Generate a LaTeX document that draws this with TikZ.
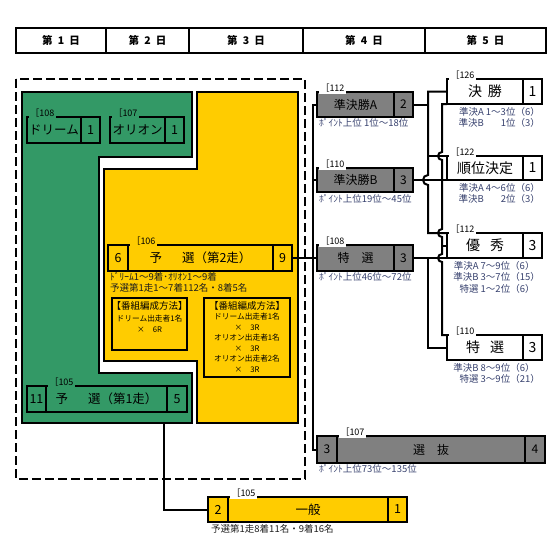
\documentclass[tikz,border=0pt]{standalone}
\usepackage{fontspec}
\setmainfont{Noto Sans CJK JP}
\usetikzlibrary{positioning, calc}
\definecolor{mygreen}{RGB}{51,153,102}
\definecolor{myyellow}{RGB}{255,204,0}
\definecolor{mygray}{RGB}{128,128,128}
\definecolor{mynavy}{RGB}{55,65,110}
\definecolor{mydark}{RGB}{30,30,30}
\tikzset{
  hdrcell/.style={rectangle, draw, line width=1.6pt, minimum height=25pt,
    inner sep=0pt, outer sep=0pt, anchor=north west,
    font=\fontsize{10.5}{12}\selectfont\bfseries},
  cell/.style={rectangle, draw, line width=2.4pt, inner sep=0pt, outer sep=0pt,
    anchor=north west, font=\fontsize{12.5}{14}\selectfont},
  greencell/.style={cell, fill=mygreen},
  yellowcell/.style={cell, fill=myyellow},
  graycell/.style={cell, fill=mygray, font=\fontsize{12}{14}\selectfont},
  whitecell/.style={cell, fill=white, font=\fontsize{14}{16}\selectfont},
  tag/.style={inner sep=1.5pt, outer sep=0pt, fill=white,
    font=\fontsize{9}{10}\selectfont},
  note/.style={inner sep=0pt, text=mydark, font=\fontsize{9.5}{11.5}\selectfont},
  pointnote/.style={note, text=mynavy},
  methbox/.style={rectangle, draw, line width=2.4pt, outer sep=0pt,
    inner sep=0pt, anchor=north west},
  methtext/.style={align=center, inner sep=0pt, anchor=north,
    font=\fontsize{7.7}{10.5}\selectfont},
  area/.style={line width=2.4pt},
  frame/.style={line width=2.2pt, dash pattern=on 9pt off 4pt},
  line/.style={line width=2pt}
}

\begin{document}
\begin{tikzpicture}[x=1pt, y=-1pt]
  \useasboundingbox (0,0) rectangle (560,560);

  % days
  \node[hdrcell, minimum width=90pt] (day1) at (16,28) {第\enspace 1\enspace 日};
  \node[hdrcell, minimum width=83pt, right=0pt of day1] (day2) {第\enspace 2\enspace 日};
  \node[hdrcell, minimum width=114pt, right=0pt of day2] (day3) {第\enspace 3\enspace 日};
  \node[hdrcell, minimum width=122pt, right=0pt of day3] (day4) {第\enspace 4\enspace 日};
  \node[hdrcell, minimum width=121pt, right=0pt of day4] (day5) {第\enspace 5\enspace 日};

  % frame and areas
  \draw[frame] (16,79) rectangle (305,479);
  \draw[area, fill=mygreen] (22,92) -- (192,92) -- (192,157) -- (99,157) -- (99,373)
    -- (192,373) -- (192,423) -- (22,423) -- cycle;
  \draw[area, fill=myyellow] (197,92) -- (298,92) -- (298,423) -- (197,423) -- (197,361)
    -- (104,361) -- (104,169) -- (197,169) -- cycle;

  % day 1
  \node[greencell, minimum width=54pt, minimum height=26pt] (drm) at (27,117) {ドリーム};
  \node[greencell, minimum width=19pt, minimum height=26pt, right=0pt of drm] (drmn) {1};
  \node[tag, fill=mygreen, above right=-2pt and 2pt of drm.north west] (t108) {［108};
  \node[greencell, minimum width=55pt, minimum height=26pt] (ori) at (110,117) {オリオン};
  \node[greencell, minimum width=19pt, minimum height=26pt, right=0pt of ori] (orin) {1};
  \node[tag, fill=mygreen, above right=-2pt and 2pt of ori.north west] (t107) {［107};

  \node[greencell, minimum width=19pt, minimum height=26pt] (yo1a) at (27,386) {11};
  \node[greencell, minimum width=121pt, minimum height=26pt, right=0pt of yo1a] (yo1) {予\hspace{1.6em}選（第1走）};
  \node[greencell, minimum width=20pt, minimum height=26pt, right=0pt of yo1] (yo1b) {5};
  \node[tag, fill=mygreen, above right=-2pt and 2pt of yo1.north west] (t105a) {［105};

  % day 2-3
  \node[yellowcell, minimum width=20pt, minimum height=26pt] (yo2a) at (108,245) {6};
  \node[yellowcell, minimum width=145pt, minimum height=26pt, right=0pt of yo2a] (yo2) {予\hspace{1.6em}選（第2走）};
  \node[yellowcell, minimum width=19pt, minimum height=26pt, right=0pt of yo2] (yo2b) {9};
  \node[tag, fill=myyellow, above right=-2pt and 2pt of yo2.north west] (t106) {［106};
  \node[note, anchor=north west] (yo2s1) at (110,272) {ﾄﾞﾘｰﾑ1～9着･ｵﾘｵﾝ1～9着};
  \node[note, anchor=north west] (yo2s2) at (110,283) {予選第1走1～7着112名・8着5名};

  \node[methbox, minimum width=75pt, minimum height=52pt] (mb1) at (112,298) {};
  \node[methtext, below=3pt of mb1.north] (mb1t)
    {{\fontsize{9.5}{11}\selectfont 【番組編成方法】}\\[2pt]ドリーム出走者1名\\×\hspace{8pt}6R};
  \node[methbox, minimum width=86pt, minimum height=79pt] (mb2) at (204,298) {};
  \node[methtext, below=3pt of mb2.north] (mb2t)
    {{\fontsize{9.5}{11}\selectfont 【番組編成方法】}\\ドリーム出走者1名\\×\hspace{8pt}3R\\
     オリオン出走者1名\\×\hspace{8pt}3R\\オリオン出走者2名\\×\hspace{8pt}3R};

  \coordinate (gout) at (164,423);
  \node[yellowcell, minimum width=20pt, minimum height=25pt] (ipa) at (208,497) {2};
  \node[yellowcell, minimum width=160pt, minimum height=25pt, right=0pt of ipa] (ip) {一般};
  \node[yellowcell, minimum width=19pt, minimum height=25pt, right=0pt of ip] (ipb) {1};
  \node[tag, above right=-2pt and 2pt of ip.north west] (t105b) {［105};
  \node[note, anchor=north west] (ips) at (211,524) {予選第1走8着11名・9着16名};

  % day 4
  \node[graycell, minimum width=77pt, minimum height=25pt] (sfa) at (317,92) {準決勝A};
  \node[graycell, minimum width=19pt, minimum height=25pt, right=0pt of sfa] (sfan) {2};
  \node[tag, above right=-2pt and 2pt of sfa.north west] (t112a) {［112};
  \node[pointnote, anchor=north west] (sfas) at (319,118) {ﾎﾟｲﾝﾄ上位 1位～18位};

  \node[graycell, minimum width=77pt, minimum height=24pt] (sfb) at (317,168) {準決勝B};
  \node[graycell, minimum width=19pt, minimum height=24pt, right=0pt of sfb] (sfbn) {3};
  \node[tag, above right=-2pt and 2pt of sfb.north west] (t110a) {［110};
  \node[pointnote, anchor=north west] (sfbs) at (319,194) {ﾎﾟｲﾝﾄ上位19位～45位};

  \node[graycell, minimum width=77pt, minimum height=26pt] (tks) at (317,245) {特\hspace{1em}選};
  \node[graycell, minimum width=19pt, minimum height=26pt, right=0pt of tks] (tksn) {3};
  \node[tag, above right=-2pt and 2pt of tks.north west] (t108b) {［108};
  \node[pointnote, anchor=north west] (tkss) at (319,272) {ﾎﾟｲﾝﾄ上位46位～72位};

  \node[graycell, minimum width=20pt, minimum height=27pt] (snba) at (317,436) {3};
  \node[graycell, minimum width=188pt, minimum height=27pt, right=0pt of snba] (snb) {選\hspace{1em}抜};
  \node[graycell, minimum width=20pt, minimum height=27pt, right=0pt of snb] (snbb) {4};
  \node[tag, above right=-2pt and 2pt of snb.north west] (t107b) {［107};
  \node[pointnote, anchor=north west] (snbs) at (319,464) {ﾎﾟｲﾝﾄ上位73位～135位};

  % day 5
  \node[whitecell, minimum width=76pt, minimum height=25pt] (fin) at (447,79) {決\hspace{6pt}勝};
  \node[whitecell, minimum width=19pt, minimum height=25pt, right=0pt of fin] (finn) {1};
  \node[tag, above right=-2pt and 2pt of fin.north west] (t126) {［126};
  \node[pointnote, anchor=north east] (fins) at ($(finn.south east)+(-2,3)$)
    {\begin{tabular}{@{}r@{\ }r@{}l@{}}準決A & 1～3位 & （6）\\ 準決B & 1位 & （3）\end{tabular}};

  \node[whitecell, minimum width=76pt, minimum height=24pt] (jun) at (447,156) {順位決定};
  \node[whitecell, minimum width=19pt, minimum height=24pt, right=0pt of jun] (junn) {1};
  \node[tag, above right=-2pt and 2pt of jun.north west] (t122) {［122};
  \node[pointnote, anchor=north east] (juns) at ($(junn.south east)+(-2,3)$)
    {\begin{tabular}{@{}r@{\ }r@{}l@{}}準決A & 4～6位 & （6）\\ 準決B & 2位 & （3）\end{tabular}};

  \node[whitecell, minimum width=76pt, minimum height=25pt] (yus) at (447,233) {優\hspace{10pt}秀};
  \node[whitecell, minimum width=19pt, minimum height=25pt, right=0pt of yus] (yusn) {3};
  \node[tag, above right=-2pt and 2pt of yus.north west] (t112b) {［112};
  \node[pointnote, anchor=north east] (yuss) at ($(yusn.south east)+(-2,3)$)
    {\begin{tabular}{@{}r@{\ }r@{}l@{}}準決A & 7～9位 & （6）\\ 準決B & 3～7位 & （15）\\ 特選 & 1～2位 & （6）\end{tabular}};

  \node[whitecell, minimum width=76pt, minimum height=25pt] (tok) at (447,335) {特\hspace{10pt}選};
  \node[whitecell, minimum width=19pt, minimum height=25pt, right=0pt of tok] (tokn) {3};
  \node[tag, above right=-2pt and 2pt of tok.north west] (t110b) {［110};
  \node[pointnote, anchor=north east] (toks) at ($(tokn.south east)+(-2,3)$)
    {\begin{tabular}{@{}r@{\ }r@{}l@{}}準決B & 8～9位 & （6）\\ 特選 & 3～9位 & （21）\end{tabular}};

  % connectors
  \draw[line] (gout) |- (ipa.west);
  \draw[line] (yo2b.east) -- (tks.west);
  \draw[line] (sfa.west) -- ++(-4,0) |- (snba.west);
  \draw[line] (sfb.west) -- ++(-4,0);

  \coordinate (ba) at (428,0);
  \coordinate (bb) at (442,0);
  \draw[line] (sfan.east) -- (sfan.east -| ba);
  \draw[line] (fin.west) -- (fin.west -| ba) -- ($(ba |- sfbn.east)+(0,-5)$)
    arc[start angle=270, end angle=90, radius=5] -- (ba |- yus.north west) -- (yus.north west);
  \draw[line] (ba |- jun.north west) -- (jun.north west);
  \draw[line] (sfbn.east) -- (jun.south west);
  \draw[line] (fin.south west) -- (fin.south west -| bb) -- ($(bb |- jun.north west)+(0,-4)$)
    arc[start angle=270, end angle=90, radius=4] -- ($(bb |- yus.north west)+(0,-4)$)
    arc[start angle=270, end angle=90, radius=4] -- ($(bb |- yus.south west)+(0,-4)$)
    arc[start angle=270, end angle=90, radius=4] -- (bb |- tok.north west) -- (tok.north west);
  \draw[line] (bb |- yus.west) -- (yus.west);
  \draw[line] (tksn.east) -- (yus.south west);
  \draw[line] (tksn.east -| ba) |- (tok.west);
\end{tikzpicture}
\end{document}
